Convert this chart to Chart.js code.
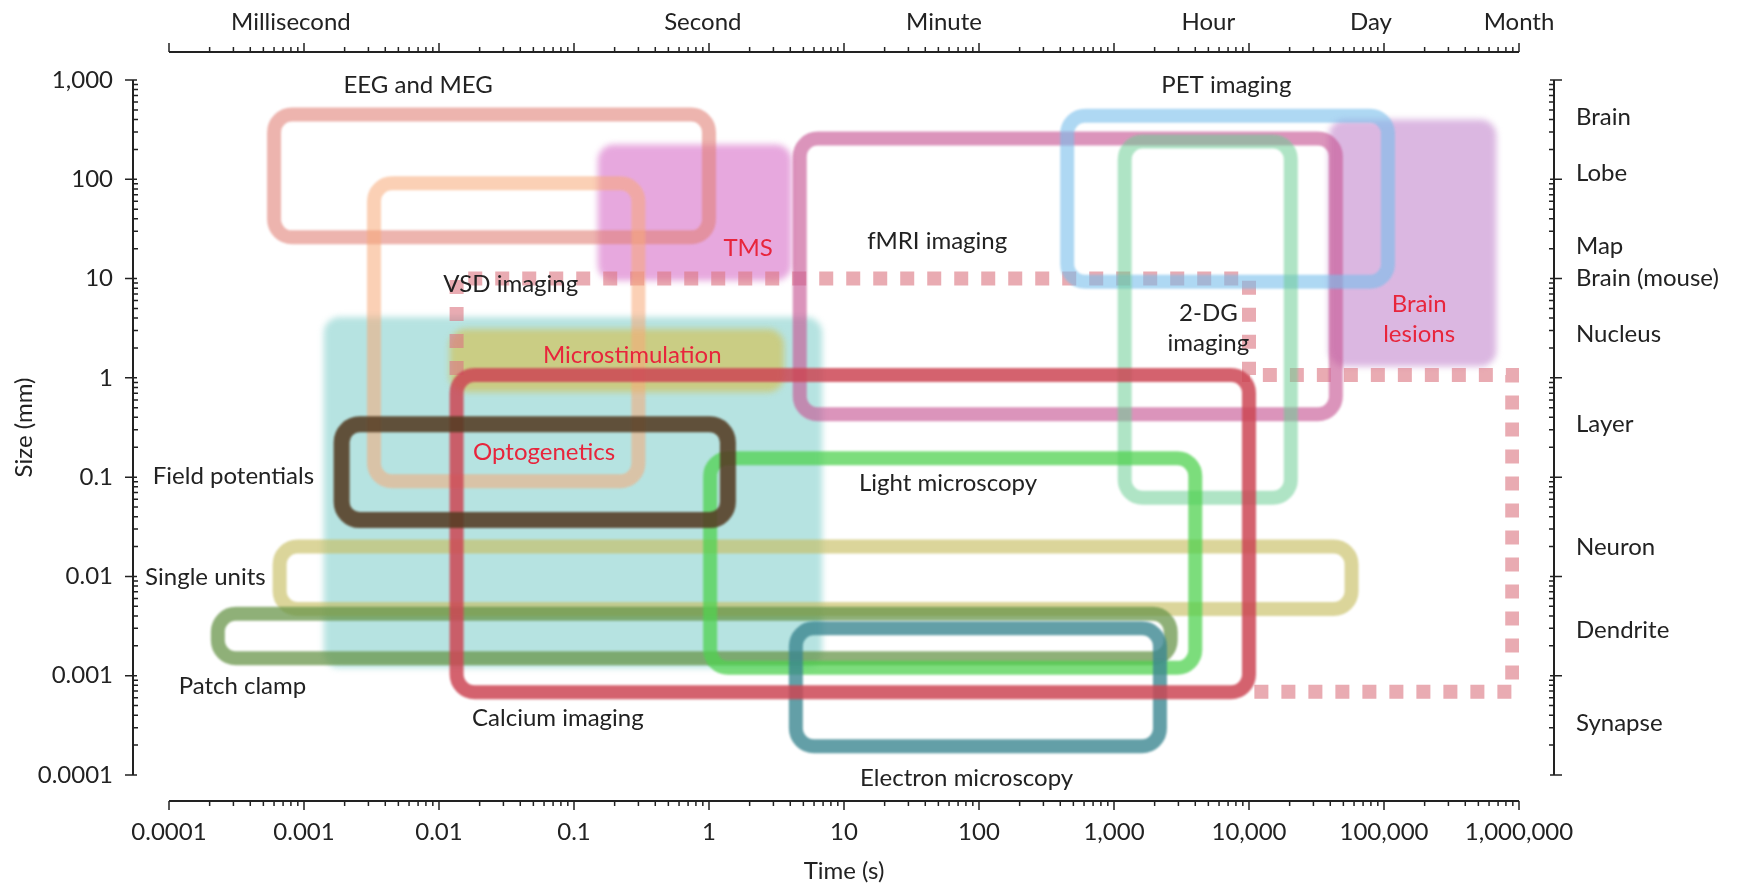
<!DOCTYPE html>
<html>
<head>
<meta charset="utf-8">
<script src="https://cdn.jsdelivr.net/npm/chart.js@4.4.0/dist/chart.umd.min.js"></script>
<style>
  html, body { margin: 0; background: #fff; }
  #wrap { width: 1744px; height: 888px; }
</style>
</head>
<body>
<div id="wrap"><canvas id="chartTecnicas"></canvas></div>
<script>
// ---- datos: tecnicas (tiempo en s, tamano en mm) ----
const techniques = ['Optogenetics', 'TMS', 'Brain lesions', 'Microstimulation',
  'EEG and MEG', 'VSD imaging', 'fMRI imaging', 'PET imaging', '2-DG imaging',
  'Single units', 'Patch clamp', 'Light microscopy', 'Electron microscopy',
  'Calcium imaging', 'Field potentials'];
const timeMin = [0.0014, 0.15, 39000, 0.012, 0.0006, 0.0033, 4.7, 450, 1200, 0.00066, 0.00023, 1.02, 4.4, 0.0135, 0.0019];
const timeMax = [6.9, 4.1, 680000, 3.6, 1.0, 0.30, 44000, 107000, 20400, 57500, 2630, 4000, 2190, 10000, 1.38];
const sizeMin = [0.0012, 9.5, 1.3, 0.72, 26, 0.091, 0.43, 9.3, 0.062, 0.0047, 0.0015, 0.0012, 0.000195, 0.00068, 0.037];
const sizeMax = [4.1, 224, 400, 3.1, 450, 91, 257, 437, 240, 0.020, 0.0042, 0.155, 0.003, 1.07, 0.34];
const filled = [true, true, true, true, false, false, false, false, false, false, false, false, false, false, false];
const boxColors = ['rgba(110,200,195,0.5)', 'rgba(215,110,200,0.6)', 'rgba(195,135,205,0.6)', 'rgba(215,190,70,0.6)',
  'rgba(225,130,120,0.6)', 'rgba(248,170,120,0.55)', 'rgba(200,90,150,0.65)', 'rgba(120,190,235,0.6)',
  'rgba(110,205,150,0.55)', 'rgba(200,190,100,0.65)', 'rgba(105,150,75,0.75)', 'rgba(80,210,80,0.75)',
  'rgba(60,135,145,0.8)', 'rgba(205,70,85,0.85)', 'rgba(85,60,35,0.88)'];

// etiquetas de cada tecnica
const labelText = ['Optogenetics', 'TMS', 'Brain\nlesions', 'Microstimulation', 'EEG and MEG', 'VSD imaging',
  'fMRI imaging', 'PET imaging', '2-DG\nimaging', 'Single units', 'Patch clamp', 'Light microscopy',
  'Electron microscopy', 'Calcium imaging', 'Field potentials'];
const labelTime = [0.060, 1.95, 182000, 0.27, 0.007, 0.034, 49, 6800, 5000, 0.000186, 0.00035, 59, 81, 0.076, 0.0003];
const labelSize = [0.178, 20, 5.5, 1.7, 880, 8.7, 24, 880, 4.5, 0.0098, 0.00078, 0.087, 0.000093, 0.00037, 0.102];
const labelRed = [true, true, true, true, false, false, false, false, false, false, false, false, false, false, false];

// linea punteada (expansion futura)
const dottedTime = [0.0135, 0.0135, 10000, 10000, 891000, 891000, 10000];
const dottedSize = [1.07, 10, 10, 1.07, 1.07, 0.00069, 0.00069];

// ejes
const timeTicks = [0.0001, 0.001, 0.01, 0.1, 1, 10, 100, 1000, 10000, 100000, 1000000];
const timeTickLabels = ['0.0001', '0.001', '0.01', '0.1', '1', '10', '100', '1,000', '10,000', '100,000', '1,000,000'];
const sizeTicks = [0.0001, 0.001, 0.01, 0.1, 1, 10, 100, 1000];
const sizeTickLabels = ['0.0001', '0.001', '0.01', '0.1', '1', '10', '100', '1,000'];
const timeUnits = ['Millisecond', 'Second', 'Minute', 'Hour', 'Day', 'Month'];
const timeUnitPos = [0.0008, 0.9, 55, 5000, 80000, 1000000];
const sizeUnits = ['Brain', 'Lobe', 'Map', 'Brain (mouse)', 'Nucleus', 'Layer', 'Neuron', 'Dendrite', 'Synapse'];
const sizeUnitPos = [417, 115, 21, 10, 2.75, 0.34, 0.0195, 0.0029, 0.00033];

const FONT = 'Lato, "DejaVu Sans", sans-serif';
const INK = '#222222';
const RED = '#e8253c';

function boxPath(ctx, x0, y0, x1, y1, r) {
    ctx.beginPath();
    ctx.roundRect(Math.min(x0, x1), Math.min(y0, y1), Math.abs(x1 - x0), Math.abs(y1 - y0), r);
}

const boxesPlugin = {
    id: 'boxes',
    beforeDatasetsDraw(chart) {
        const { ctx, scales: { x, y } } = chart;
        ctx.save();
        ctx.filter = 'blur(3px)';
        techniques.forEach((t, i) => {
            if (!filled[i]) return;
            boxPath(ctx, x.getPixelForValue(timeMin[i]), y.getPixelForValue(sizeMax[i]),
                x.getPixelForValue(timeMax[i]), y.getPixelForValue(sizeMin[i]), 16);
            ctx.fillStyle = boxColors[i];
            ctx.fill();
        });
        ctx.restore();
    },
    afterDatasetsDraw(chart) {
        const { ctx, scales: { x, y } } = chart;
        ctx.save();
        ctx.filter = 'blur(1.2px)';
        techniques.forEach((t, i) => {
            if (filled[i]) return;
            boxPath(ctx, x.getPixelForValue(timeMin[i]), y.getPixelForValue(sizeMax[i]),
                x.getPixelForValue(timeMax[i]), y.getPixelForValue(sizeMin[i]), 18);
            ctx.lineWidth = t === 'Field potentials' ? 16 : 14;
            ctx.strokeStyle = boxColors[i];
            ctx.stroke();
        });
        ctx.restore();
    }
};

const axesPlugin = {
    id: 'detachedAxes',
    afterDraw(chart) {
        const { ctx, chartArea: area, scales: { x, y } } = chart;
        const leftX = area.left - 36, rightX = area.right + 35;
        const bottomY = area.bottom + 26, topY = area.top - 28;
        const yTop = y.getPixelForValue(sizeTicks[sizeTicks.length - 1]);
        const yBot = y.getPixelForValue(sizeTicks[0]);
        const xL = x.getPixelForValue(timeTicks[0]);
        const xR = x.getPixelForValue(timeTicks[timeTicks.length - 1]);

        ctx.save();
        ctx.strokeStyle = INK;
        ctx.lineWidth = 2;
        ctx.beginPath();
        ctx.moveTo(leftX, yTop); ctx.lineTo(leftX, yBot);
        ctx.moveTo(rightX, yTop); ctx.lineTo(rightX, yBot);
        ctx.moveTo(xL, bottomY); ctx.lineTo(xR, bottomY);
        ctx.moveTo(xL, topY); ctx.lineTo(xR, topY);
        ctx.stroke();

        // marcas mayores y menores
        ctx.lineWidth = 1.5;
        ctx.beginPath();
        sizeTicks.forEach((v, k) => {
            const py = y.getPixelForValue(v);
            ctx.moveTo(leftX - 8, py); ctx.lineTo(leftX + 4, py);
            ctx.moveTo(rightX - 4, py); ctx.lineTo(rightX + 8, py);
            if (k === sizeTicks.length - 1) return;
            for (let m = 2; m <= 9; m++) {
                const my = y.getPixelForValue(v * m);
                ctx.moveTo(leftX, my); ctx.lineTo(leftX + 5, my);
                ctx.moveTo(rightX - 5, my); ctx.lineTo(rightX, my);
            }
        });
        timeTicks.forEach((v, k) => {
            const px = x.getPixelForValue(v);
            ctx.moveTo(px, bottomY); ctx.lineTo(px, bottomY + 9);
            ctx.moveTo(px, topY); ctx.lineTo(px, topY - 9);
            if (k === timeTicks.length - 1) return;
            for (let m = 2; m <= 9; m++) {
                const mx = x.getPixelForValue(v * m);
                ctx.moveTo(mx, bottomY); ctx.lineTo(mx, bottomY + 5);
                ctx.moveTo(mx, topY); ctx.lineTo(mx, topY - 5);
            }
        });
        ctx.stroke();

        // textos de ejes
        ctx.fillStyle = INK;
        ctx.font = '24px ' + FONT;
        ctx.textBaseline = 'middle';
        ctx.textAlign = 'right';
        sizeTicks.forEach((v, k) => ctx.fillText(sizeTickLabels[k], leftX - 20, y.getPixelForValue(v)));
        ctx.textAlign = 'left';
        sizeUnits.forEach((u, k) => ctx.fillText(u, rightX + 22, y.getPixelForValue(sizeUnitPos[k])));
        ctx.textAlign = 'center';
        timeTicks.forEach((v, k) => ctx.fillText(timeTickLabels[k], x.getPixelForValue(v), bottomY + 31));
        timeUnits.forEach((u, k) => ctx.fillText(u, x.getPixelForValue(timeUnitPos[k]), topY - 30));
        ctx.fillText('Time (s)', x.getPixelForValue(10), bottomY + 70);
        ctx.save();
        ctx.translate(24, (yTop + yBot) / 2);
        ctx.rotate(-Math.PI / 2);
        ctx.fillText('Size (mm)', 0, 0);
        ctx.restore();

        // etiquetas de tecnicas
        techniques.forEach((t, i) => {
            ctx.fillStyle = labelRed[i] ? RED : INK;
            const lines = labelText[i].split('\n');
            const px = x.getPixelForValue(labelTime[i]);
            const py = y.getPixelForValue(labelSize[i]);
            lines.forEach((ln, j) => ctx.fillText(ln, px, py + j * 30));
        });
        ctx.restore();
    }
};

new Chart(document.getElementById('chartTecnicas'), {
    type: 'scatter',
    data: {
        datasets: [{
            label: 'Calcium imaging (future)',
            data: dottedTime.map((t, i) => ({ x: t, y: dottedSize[i] })),
            showLine: true,
            borderColor: 'rgba(220,120,130,0.62)',
            borderWidth: 14,
            borderDash: [14, 13],
            borderCapStyle: 'butt',
            borderJoinStyle: 'miter',
            pointRadius: 0,
            tension: 0
        }]
    },
    options: {
        responsive: true,
        maintainAspectRatio: false,
        animation: false,
        layout: { padding: { left: 169, right: 225, top: 80, bottom: 113 } },
        plugins: { legend: { display: false }, tooltip: { enabled: false } },
        scales: {
            x: { type: 'logarithmic', min: 0.0001, max: 1000000, display: false },
            y: { type: 'logarithmic', min: 0.0001, max: 1000, display: false }
        }
    },
    plugins: [boxesPlugin, axesPlugin]
});
</script>
</body>
</html>
